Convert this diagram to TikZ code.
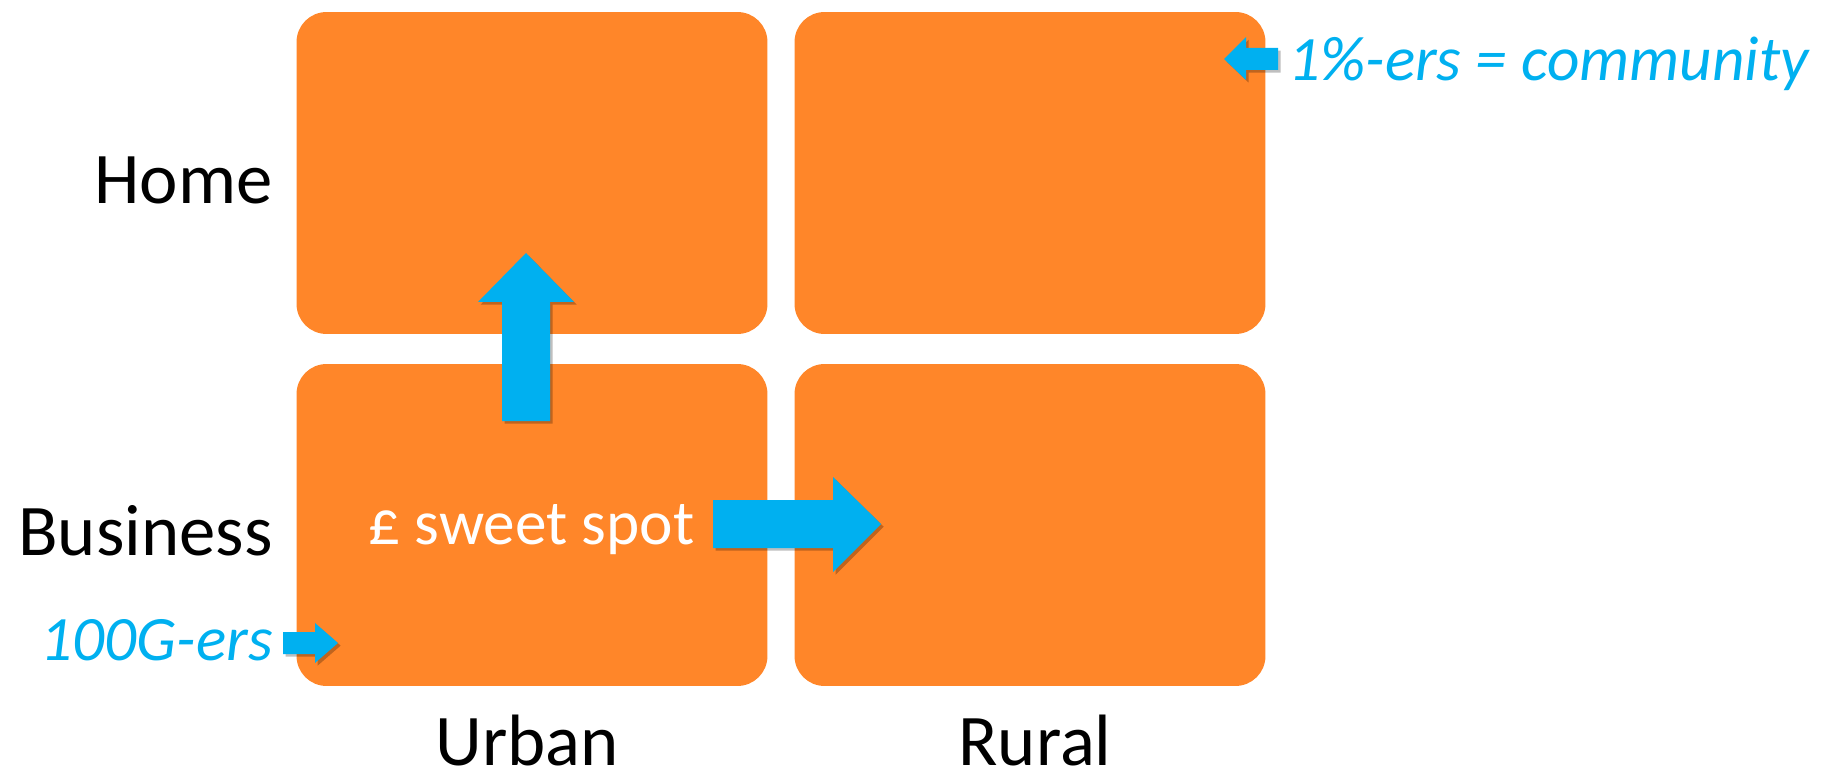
\documentclass[tikz,border=0pt]{standalone}
\usepackage{fontspec}
\setmainfont{Carlito}
\usepackage{tikz}
\usetikzlibrary{positioning,shadows}
\definecolor{cellorange}{RGB}{255,134,41}
\definecolor{arrowblue}{RGB}{0,176,240}

\tikzset{
    cell/.style={fill=cellorange, rounded corners=0.6cm, minimum width=9.42cm, minimum height=6.44cm, inner sep=0pt},
    axislabel/.style={font=\fontsize{41.4}{48}\selectfont, inner sep=0pt},
    note/.style={font=\fontsize{36}{42}\selectfont\itshape, text=arrowblue, inner sep=0pt},
    blockarrow/.style={fill=arrowblue, drop shadow={shadow xshift=1.5pt, shadow yshift=-1.5pt, opacity=0.25, fill=black}}
}

\begin{document}
\begin{tikzpicture}[x=0.02cm, y=-0.02cm]
        \useasboundingbox (0,0) rectangle (1824,776);

        % the four cells
        \node[cell] (homeurban) at (532,173) {};
        \node[cell] (homerural) at (1030,173) {};
        \node[cell] (bizurban) at (532,525) {};
        \node[cell] (bizrural) at (1030,525) {};

        % row and column labels
        \node[axislabel, anchor=base east] (home) at (273,204) {Home};
        \node[axislabel, anchor=base east] (business) at (273,555) {Business};
        \node[axislabel, anchor=base] (urban) at (527,765) {Urban};
        \node[axislabel, anchor=base] (rural) at (1035,765) {Rural};

        % sweet spot
        \node[anchor=base west, inner sep=0pt, text=white, font=\fontsize{36}{42}\selectfont] (sweet) at (368,544) {£ sweet spot};

        % block arrows
        \fill[blockarrow] (502,421) -- (502,302) -- (478,302) -- (526,253) -- (574,302) -- (550,302) -- (550,421) -- cycle;
        \fill[blockarrow] (713,500) -- (833,500) -- (833,477) -- (881,524) -- (833,572) -- (833,548) -- (713,548) -- cycle;

        % notes
        \node[note, anchor=base west] (community) at (1288,81) {1\%-ers = community};
        \fill[blockarrow] (1278,48) -- (1246,48) -- (1246,37) -- (1224,59) -- (1246,80) -- (1246,70) -- (1278,70) -- cycle;

        \node[note, anchor=base east] (hundredg) at (273,660) {100G-ers};
        \fill[blockarrow] (283,632) -- (315,632) -- (315,623) -- (338,643) -- (315,663) -- (315,654) -- (283,654) -- cycle;
\end{tikzpicture}
\end{document}
